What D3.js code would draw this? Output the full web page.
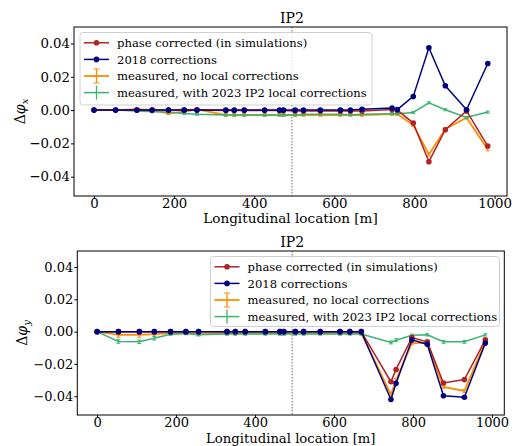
<!DOCTYPE html>
<html><head><meta charset="utf-8">
<script src="https://cdn.jsdelivr.net/npm/d3@7"></script>
<style>body{margin:0;background:#fff}svg{display:block}text{font-family:"DejaVu Serif",serif}</style>
</head><body><svg id="c" width="515" height="446"></svg>
<script>
const positions = [0,54,107,145,186,225,257,329,350,375,426,463,473,502,523,565,615,640,669,744,757,797,836,877,930,983];
const ipLocation = 494;
const xTicks = [0,200,400,600,800,1000];
const yTicks = [-0.04,-0.02,0,0.02,0.04];
const seriesNames = ["phase corrected (in simulations)","2018 corrections","measured, no local corrections","measured, with 2023 IP2 local corrections"];

// horizontal plane
const xCorrected = [0,0,0,0,0,0,0,-0.0003,-0.0003,-0.0003,-0.0003,-0.0003,-0.0003,-0.0005,-0.0005,-0.0006,-0.0006,-0.0006,-0.0006,0.0003,0.0,-0.0078,-0.031,-0.0118,-0.0005,-0.0216];
const x2018 = [0,0,0,0,0,0,0,0,0,0,0,0,0,0,0,0,0,0,0.0005,0.0012,0.0003,0.0082,0.0374,0.0146,0.0002,0.028];
const xMeasured = [0,0,0.0006,0,-0.002,-0.001,0.0005,-0.003,-0.003,-0.003,-0.003,-0.003,-0.003,-0.003,-0.003,-0.003,-0.003,-0.003,-0.003,-0.0024,-0.0024,-0.009,-0.0266,-0.0114,-0.0046,-0.0236];
const xMeasuredErr = [0.0003,0.0004,0.0004,0.0004,0.0004,0.0004,0.0004,0.0004,0.0004,0.0004,0.0004,0.0004,0.0004,0.0004,0.0004,0.0004,0.0004,0.0004,0.0004,0.0004,0.0004,0.0005,0.0006,0.0005,0.0005,0.0006];
const xLocal = [0,0,-0.0005,-0.001,-0.0012,-0.002,-0.0025,-0.003,-0.003,-0.003,-0.003,-0.003,-0.003,-0.003,-0.0025,-0.0025,-0.0025,-0.0028,-0.0025,-0.0022,-0.0022,-0.0014,0.0044,0.0002,-0.0044,-0.0012];
const xLocalErr = [0.0003,0.0003,0.0003,0.0003,0.0003,0.0003,0.0003,0.0003,0.0003,0.0003,0.0003,0.0003,0.0003,0.0003,0.0003,0.0003,0.0003,0.0003,0.0003,0.0003,0.0003,0.0003,0.0003,0.0003,0.0003,0.0003];

// vertical plane
const yCorrected = [0,0,0,0,0,0,0,0,0,0,0,0,0,0,0,0,0,0,0,-0.031,-0.0234,-0.0037,-0.0063,-0.0318,-0.0297,-0.0051];
const y2018 = [0,0,0,0,0,0,0,0,0,0,0,0,0,0,0,0,0,0,0,-0.042,-0.032,-0.0051,-0.0078,-0.0397,-0.0406,-0.0071];
const yMeasured = [0,-0.002,-0.002,-0.0015,-0.001,-0.001,-0.0015,-0.001,-0.001,-0.001,-0.001,-0.001,-0.001,-0.001,-0.001,-0.001,-0.001,-0.001,-0.001,-0.039,-0.03,-0.0071,-0.0071,-0.0342,-0.0367,-0.0063];
const yMeasuredErr = [0.0004,0.0012,0.0012,0.0008,0.0005,0.0005,0.0005,0.0005,0.0005,0.0005,0.0005,0.0005,0.0005,0.0005,0.0005,0.0005,0.0005,0.0005,0.0005,0.0006,0.0006,0.0006,0.0006,0.0006,0.0006,0.0006];
const yLocal = [0,-0.0061,-0.0063,-0.0041,-0.0016,-0.0012,-0.002,-0.0015,-0.0015,-0.0015,-0.0015,-0.0015,-0.0015,-0.0015,-0.0015,-0.0015,-0.0015,-0.0015,-0.0015,-0.0067,-0.0053,-0.0023,-0.002,-0.0063,-0.0063,-0.002];
const yLocalErr = [0.0003,0.0008,0.0008,0.0008,0.0004,0.0004,0.0004,0.0004,0.0004,0.0004,0.0004,0.0004,0.0004,0.0004,0.0004,0.0004,0.0004,0.0004,0.0004,0.0006,0.0006,0.0004,0.0004,0.0006,0.0006,0.0004];

const colors = ["#b22222","#000080","#ff8c00","#3cb371"];
const svg = d3.select("#c");

function panel(cfg){
  const x = d3.scaleLinear().domain([-50,1031]).range([cfg.left,cfg.right]);
  const y = d3.scaleLinear().domain([-0.0516,0.0499]).range([cfg.bottom,cfg.top]);
  const g = svg.append("g");
  const fmt = d => d3.format(".2f")(d).replace("-","\u2212");
  const styleAxis = a=>{
    a.attr("font-family","DejaVu Serif").attr("font-size",cfg.tickFs);
    a.select(".domain").remove();
    a.selectAll("text").attr("fill","#000");
    a.selectAll("line").attr("stroke","#000");
  };
  g.append("g").attr("transform",`translate(0,${cfg.bottom})`)
    .call(d3.axisBottom(x).tickValues(xTicks).tickSize(3).tickPadding(0).tickFormat(d3.format("d")))
    .call(styleAxis);
  g.append("g").attr("transform",`translate(${cfg.left},0)`)
    .call(d3.axisLeft(y).tickValues(yTicks).tickSize(3).tickPadding(1).tickFormat(fmt))
    .call(styleAxis);
  g.append("line").attr("x1",x(ipLocation)).attr("x2",x(ipLocation)).attr("y1",cfg.top).attr("y2",cfg.bottom)
    .attr("stroke","#888").attr("stroke-width",1.2).attr("stroke-dasharray","1.5,1.5");
  const plot = g.append("g");
  const line = d3.line().x((d,i)=>x(positions[i])).y(d=>y(d));
  const series = cfg.series;
  const order = [2,3,0,1];
  order.forEach(k=>{
    const s = series[k];
    plot.append("path").datum(s.v).attr("d",line).attr("fill","none").attr("stroke",colors[k]).attr("stroke-width",k===2?1.8:1.5);
    if(s.err){
      s.v.forEach((v,i)=>{
        const px = x(positions[i]);
        const y1 = y(v+s.err[i]), y2 = y(v-s.err[i]);
        plot.append("line").attr("x1",px).attr("x2",px).attr("y1",y1-0.5).attr("y2",y2+0.5).attr("stroke",colors[k]).attr("stroke-width",1.2);
        plot.append("line").attr("x1",px-2).attr("x2",px+2).attr("y1",y1-0.5).attr("y2",y1-0.5).attr("stroke",colors[k]).attr("stroke-width",1);
        plot.append("line").attr("x1",px-2).attr("x2",px+2).attr("y1",y2+0.5).attr("y2",y2+0.5).attr("stroke",colors[k]).attr("stroke-width",1);
      });
    } else {
      plot.selectAll(null).data(s.v).enter().append("circle")
        .attr("cx",(d,i)=>x(positions[i])).attr("cy",d=>y(d)).attr("r",2.8).attr("fill",colors[k]);
    }
  });
  g.append("rect").attr("x",cfg.left).attr("y",cfg.top).attr("width",cfg.right-cfg.left).attr("height",cfg.bottom-cfg.top)
    .attr("fill","none").attr("stroke","#000").attr("stroke-width",1);
  g.append("text").attr("x",x(ipLocation)).attr("y",cfg.top-4).attr("text-anchor","middle").attr("font-size",14).text("IP2");
  g.append("text").attr("x",(cfg.left+cfg.right)/2).attr("y",cfg.bottom+cfg.xlabOff).attr("text-anchor","middle").attr("font-size",cfg.xlabFs).text("Longitudinal location [m]");
  const yl = g.append("text").attr("transform",`translate(${cfg.ylabX},${(cfg.top+cfg.bottom)/2}) rotate(-90)`).attr("text-anchor","middle").attr("font-size",14);
  yl.append("tspan").text("\u0394");
  yl.append("tspan").attr("font-style","italic").text("\u03c6");
  yl.append("tspan").attr("font-style","italic").attr("font-size",10).attr("dy",3).text(cfg.sub);
  const L = cfg.legend;
  const lg = g.append("g");
  lg.append("rect").attr("x",L.x).attr("y",L.y).attr("width",L.w).attr("height",L.h).attr("rx",3)
    .attr("fill","#fff").attr("fill-opacity",0.8).attr("stroke","#d0d0d0").attr("stroke-width",1);
  seriesNames.forEach((nm,k)=>{
    const cy = L.y + 10.3 + k*16.6;
    const hx1 = L.x+4, hx2 = L.x+29, hm=(hx1+hx2)/2;
    lg.append("line").attr("x1",hx1).attr("x2",hx2).attr("y1",cy).attr("y2",cy).attr("stroke",colors[k]).attr("stroke-width",k===2?1.8:1.5);
    if(k<2){
      lg.append("circle").attr("cx",hm).attr("cy",cy).attr("r",2.8).attr("fill",colors[k]);
    } else {
      lg.append("line").attr("x1",hm).attr("x2",hm).attr("y1",cy-7).attr("y2",cy+7).attr("stroke",colors[k]).attr("stroke-width",1.3);
      if(k===2){
        lg.append("line").attr("x1",hm-3).attr("x2",hm+3).attr("y1",cy-7).attr("y2",cy-7).attr("stroke",colors[k]).attr("stroke-width",1);
        lg.append("line").attr("x1",hm-3).attr("x2",hm+3).attr("y1",cy+7).attr("y2",cy+7).attr("stroke",colors[k]).attr("stroke-width",1);
      }
    }
    lg.append("text").attr("x",L.x+37).attr("y",cy+4.3).attr("font-size",11.6).text(nm);
  });
}

panel({left:74,right:507,top:27,bottom:196,ylabX:25,sub:"x",xlabOff:27.3,xlabFs:13.6,tickFs:13.3,
  series:[{v:xCorrected},{v:x2018},{v:xMeasured,err:xMeasuredErr},{v:xLocal,err:xLocalErr}],
  legend:{x:80,y:32.5,w:292,h:72.5}});
panel({left:77.3,right:504.3,top:251,bottom:415,ylabX:27,sub:"y",xlabOff:27.8,xlabFs:13.2,tickFs:13,
  series:[{v:yCorrected},{v:y2018},{v:yMeasured,err:yMeasuredErr},{v:yLocal,err:yLocalErr}],
  legend:{x:210.5,y:256.5,w:289,h:70}});
</script></body></html>
